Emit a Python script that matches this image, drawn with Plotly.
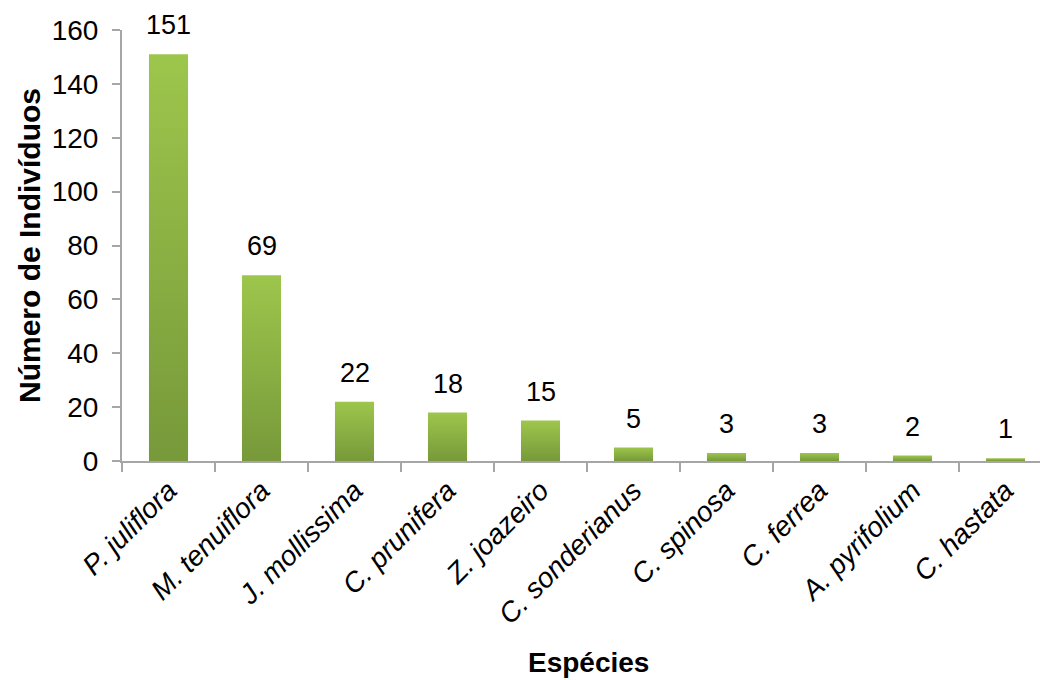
import plotly.graph_objects as go

# Species counts
species = ["P. juliflora", "M. tenuiflora", "J. mollissima", "C. prunifera", "Z. joazeiro",
           "C. sonderianus", "C. spinosa", "C. ferrea", "A. pyrifolium", "C. hastata"]
counts = [151, 69, 22, 18, 15, 5, 3, 3, 2, 1]

y_ticks = [0, 20, 40, 60, 80, 100, 120, 140, 160]

BAR_W = 0.42
TOP = "#9DC64C"
BOTTOM = "#77993A"
FONT = "Liberation Sans, Arial, sans-serif"
AXIS = "#A6A6A6"
FS = 28

fig = go.Figure()

# each bar as a filled rectangle with its own vertical gradient
for i, v in enumerate(counts):
    fig.add_trace(go.Scatter(
        x=[i - BAR_W / 2, i + BAR_W / 2, i + BAR_W / 2, i - BAR_W / 2, i - BAR_W / 2],
        y=[0, 0, v, v, 0],
        mode="lines", fill="toself",
        line=dict(width=0, color=TOP),
        fillgradient=dict(type="vertical", colorscale=[[0, BOTTOM], [1, TOP]]),
        hoverinfo="skip", showlegend=False,
    ))

# value labels above bars
for i, v in enumerate(counts):
    fig.add_annotation(x=i, y=v, text=str(v), showarrow=False, yanchor="bottom",
                       yshift=12, font=dict(size=FS - 1, color="#000000", family=FONT))

fig.update_layout(
    width=1040, height=680,
    margin=dict(l=122, r=0, t=30, b=219),
    paper_bgcolor="white", plot_bgcolor="white",
    font=dict(family=FONT, color="#000000"),
    showlegend=False,
    xaxis=dict(
        range=[-0.5, 9.5 - 12 / 93], automargin=False,
        tickmode="array", tickvals=list(range(len(species))),
        ticktext=[f"<i>{s}</i>" for s in species],
        tickangle=-45, ticks="", showgrid=False, zeroline=False,
        showline=True, linecolor=AXIS, linewidth=2,
        tickfont=dict(size=FS, family=FONT),
        minor=dict(tick0=-0.5, dtick=1, ticks="outside", ticklen=9,
                   tickcolor=AXIS, tickwidth=2, showgrid=False),
    ),
    yaxis=dict(
        range=[0, 160], tickmode="array", tickvals=y_ticks, automargin=False,
        ticks="outside", ticklen=8, tickcolor=AXIS, tickwidth=2,
        showline=True, linecolor=AXIS, linewidth=2,
        showgrid=False, zeroline=False,
        tickfont=dict(size=FS, family=FONT),
        ticklabelstandoff=8,
    ),
)

fig.add_annotation(text="<b>Número de Indivíduos</b>", xref="paper", yref="paper",
                   x=(29 - 122) / 918, y=(461 - 246) / 431, xanchor="center", yanchor="middle",
                   textangle=-90, showarrow=False,
                   font=dict(size=30, family=FONT))
fig.add_annotation(text="<b>Espécies</b>", xref="paper", yref="paper",
                   x=(588 - 122) / 918, y=-(662 - 461) / 431, xanchor="center", yanchor="middle",
                   showarrow=False,
                   font=dict(size=FS, family=FONT))

fig.write_html("out.html")
